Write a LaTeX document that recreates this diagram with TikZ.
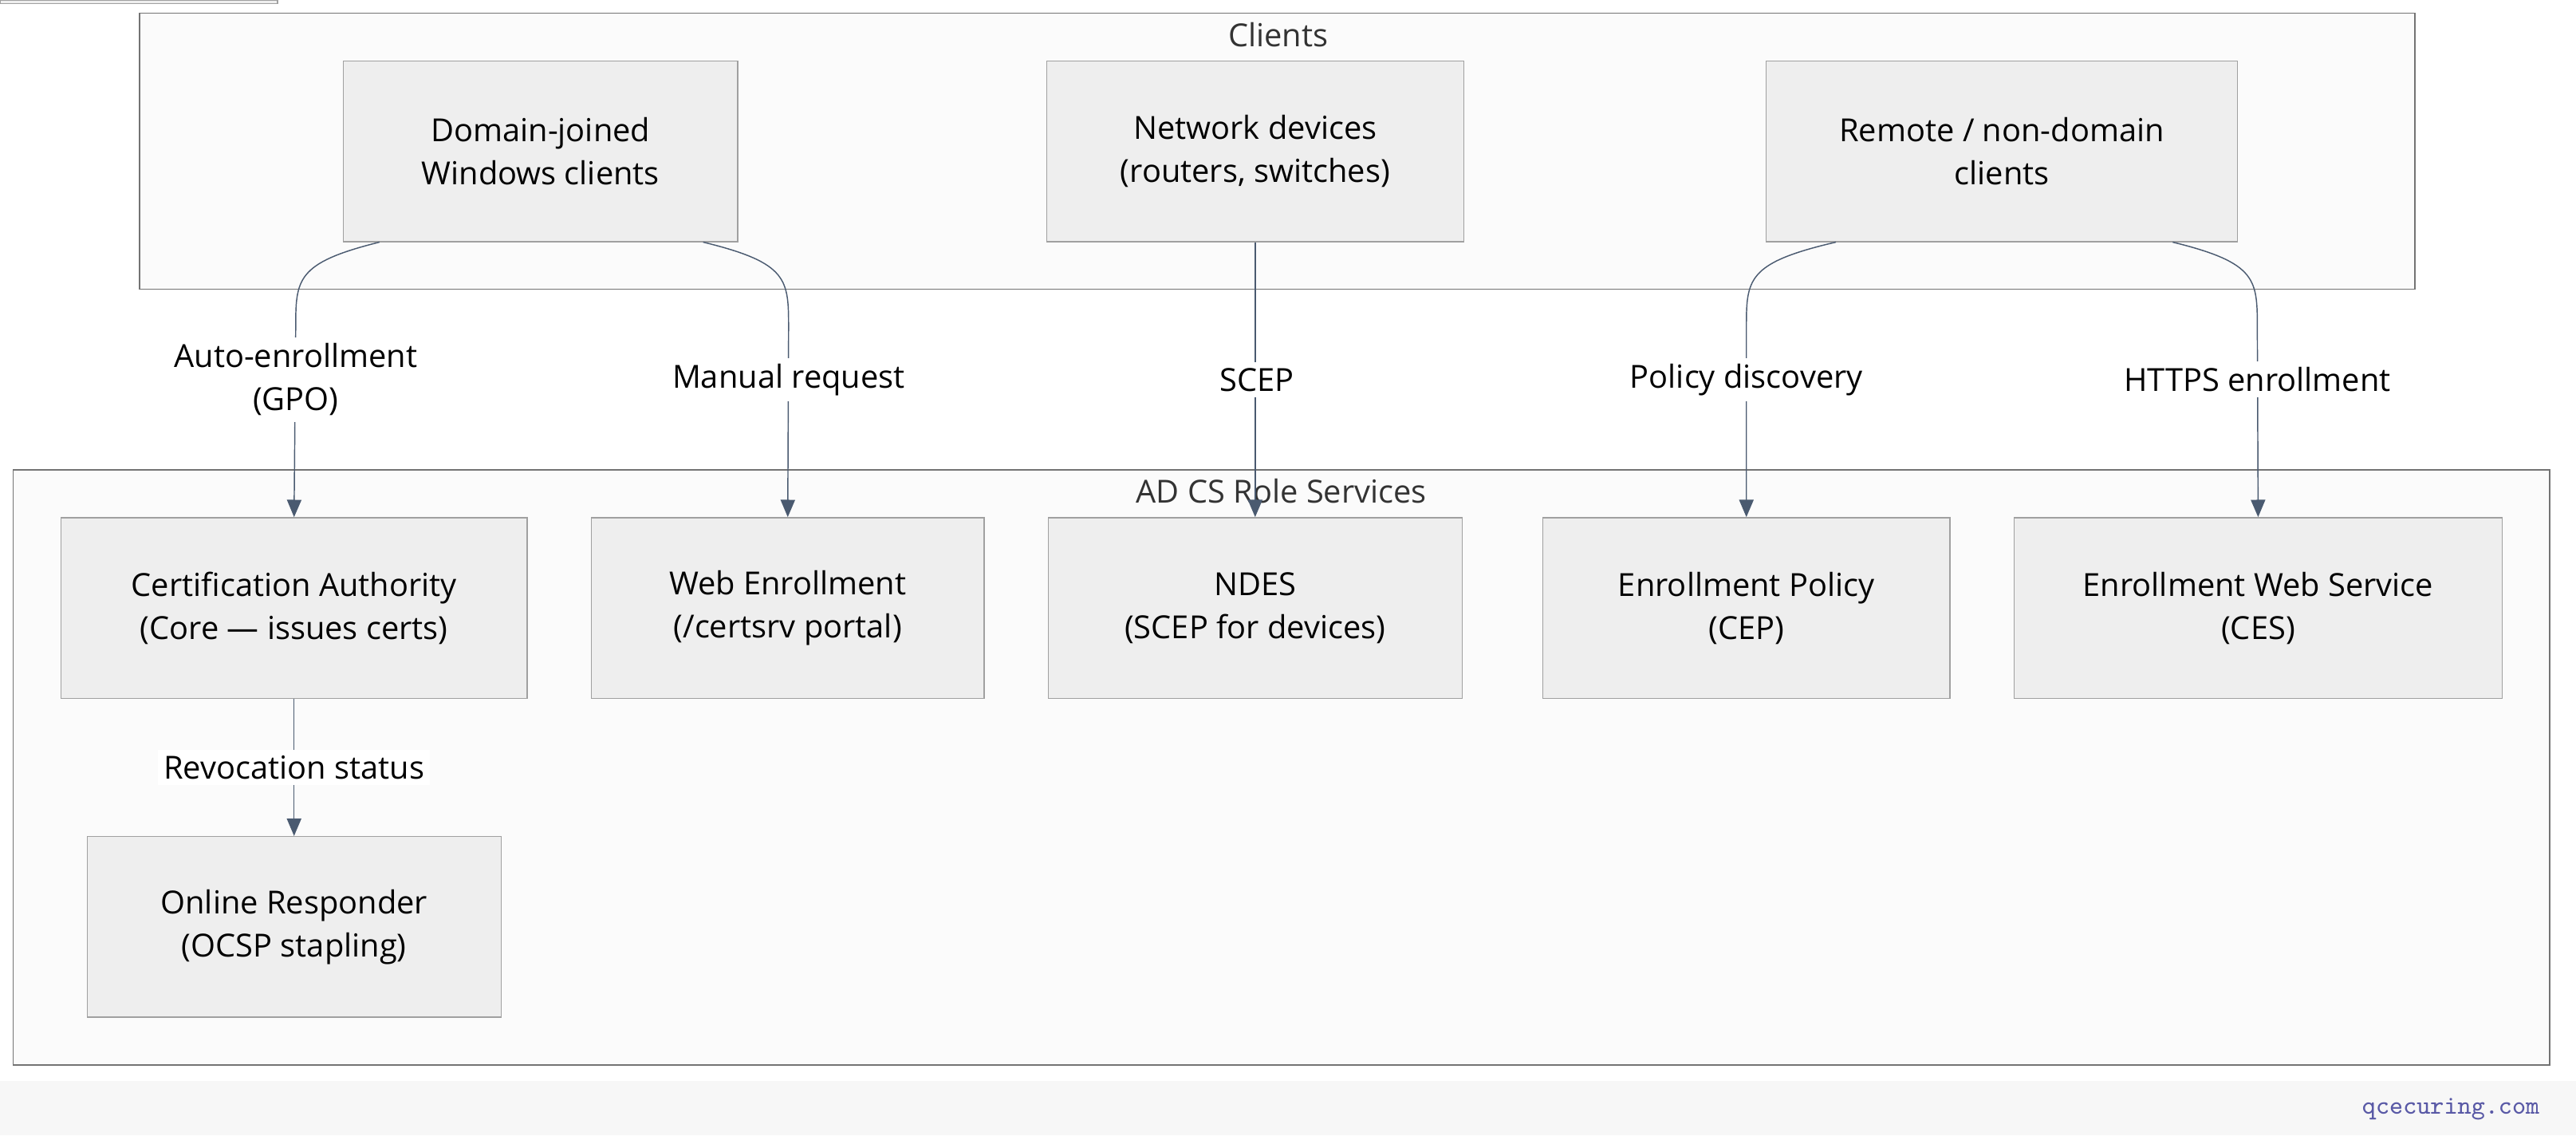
\documentclass[tikz,border=0pt]{standalone}
\usepackage{fontspec}
\setmainfont{Open Sans}
\usetikzlibrary{arrows.meta, positioning, calc}
\definecolor{edgecol}{HTML}{4A5A70}
\definecolor{boxfill}{HTML}{EEEEEE}
\definecolor{boxline}{HTML}{A0A0A0}
\definecolor{groupfill}{HTML}{FBFBFB}
\tikzset{
  svc/.style={draw=boxline, fill=boxfill, align=center, inner sep=0pt, font=\fontsize{11}{15}\selectfont},
  group/.style={draw=gray!90!black, fill=groupfill},
  flow/.style={draw=edgecol, -{Triangle[length=6pt,width=5pt]}},
  lbl/.style={fill=white, align=center, inner sep=2pt, font=\fontsize{11}{15}\selectfont}
}
\begin{document}
\begin{tikzpicture}[x=0.02cm, y=-0.02cm]
    \useasboundingbox (0,0) rectangle (1568,691);
    \fill[white] (0,0) rectangle (1568,691);
    \fill[gray!6] (0,658) rectangle (1568,691);
    \node[font=\ttfamily\small, text=gray!70!blue, anchor=east] (brand) at (1552,675) {qcecuring.com};

    % Groups
    \draw[group] (85,8) rectangle (1470,176);
    \node[font=\fontsize{11}{14}\selectfont, text=black!80] (clientsLbl) at (778,21) {Clients};
    \draw[group] (8,286) rectangle (1552,648);
    \node[font=\fontsize{11}{14}\selectfont, text=black!80] (adcsLbl) at (780,299) {AD CS Role Services};

    % Clients
    \node[svc, minimum width=240\pgflinewidth, anchor=north west] at (0,0) {};
    \node[svc] (dom) at (329,92) [minimum width=4.8cm, minimum height=2.2cm] {Domain-joined\\Windows clients};
    \node[svc] (net) at (764,92) [minimum width=5.08cm, minimum height=2.2cm] {Network devices\\(routers, switches)};
    \node[svc] (rem) at (1218.5,92) [minimum width=5.74cm, minimum height=2.2cm] {Remote / non-domain\\clients};

    % Role services
    \node[svc] (ca) at (179,370) [minimum width=5.68cm, minimum height=2.2cm] {Certification Authority\\(Core — issues certs)};
    \node[svc] (web) at (479.5,370) [minimum width=4.78cm, minimum height=2.2cm] {Web Enrollment\\(/certsrv portal)};
    \node[svc] (ndes) at (764,370) [minimum width=5.04cm, minimum height=2.2cm] {NDES\\(SCEP for devices)};
    \node[svc] (cep) at (1063,370) [minimum width=4.96cm, minimum height=2.2cm] {Enrollment Policy\\(CEP)};
    \node[svc] (ces) at (1374.5,370) [minimum width=5.94cm, minimum height=2.2cm] {Enrollment Web Service\\(CES)};
    \node[svc] (ocsp) at (179,564) [minimum width=5.04cm, minimum height=2.2cm] {Online Responder\\(OCSP stapling)};

    % Connectors
    \draw[flow] ($(dom.south)+(-98,0)$) .. controls (180,160) and (180,170) .. (180,200) -- (ca.north);
    \draw[flow] ($(dom.south)+(99,0)$) .. controls (480,160) and (480,170) .. (480,200) -- (web.north);
    \draw[flow] (net.south) -- (ndes.north);
    \draw[flow] ($(rem.south)+(-101,0)$) .. controls (1063,160) and (1063,170) .. (1063,200) -- (cep.north);
    \draw[flow] ($(rem.south)+(104,0)$) .. controls (1374,160) and (1374,170) .. (1374,200) -- (ces.north);
    \draw[flow] (ca.south) -- (ocsp.north);

    % Labels
    \node[lbl] (l1) at (180,231) {Auto-enrollment\\(GPO)};
    \node[lbl] (l2) at (480,231) {Manual request};
    \node[lbl] (l3) at (765,231) {SCEP};
    \node[lbl] (l4) at (1063,231) {Policy discovery};
    \node[lbl] (l5) at (1374,231) {HTTPS enrollment};
    \node[lbl] (l6) at (179,467) {Revocation status};
\end{tikzpicture}
\end{document}
